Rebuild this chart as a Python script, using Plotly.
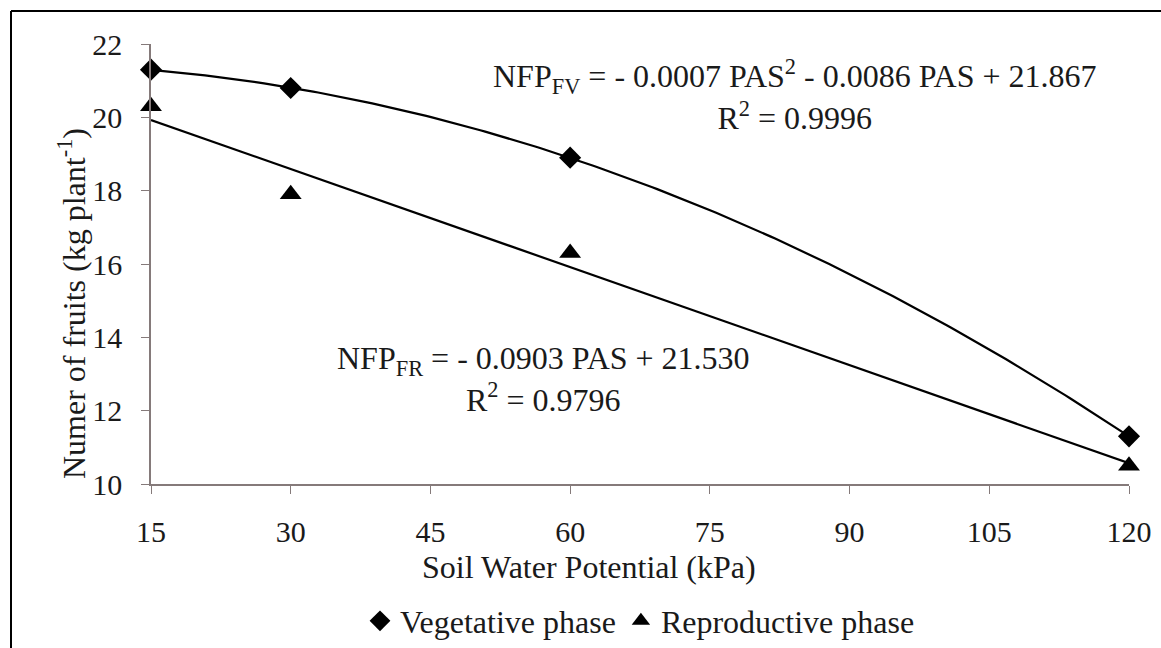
import numpy as np
import plotly.graph_objects as go

# Data
pas = [15, 30, 60, 120]
vegetative = [21.3, 20.8, 18.9, 11.3]
reproductive = [20.3, 17.9, 16.3, 10.5]
x_ticks = [15, 30, 45, 60, 75, 90, 105, 120]
y_ticks = [10, 12, 14, 16, 18, 20, 22]

eq_fv = "NFP<sub>FV</sub> = - 0.0007 PAS<sup>2</sup> - 0.0086 PAS + 21.867<br>R<sup>2</sup> = 0.9996"
eq_fr = "NFP<sub>FR</sub> = - 0.0903 PAS + 21.530<br>R<sup>2</sup> = 0.9796"
x_title = "Soil Water Potential (kPa)"
y_title = "Numer of fruits (kg plant<sup>-1</sup>)"

# Trend lines fitted to the data (as the spreadsheet trendlines)
xf = np.linspace(min(pas), max(pas), 200)
fit_v = np.polyval(np.polyfit(pas, vegetative, 2), xf)
fit_r = np.polyval(np.polyfit(pas, reproductive, 1), xf)

FONT = "Liberation Serif, Times New Roman, serif"
TXT = "#1a1a1a"
AX = "#857a7a"

W, H = 1161, 648
ml, mr, mt, mb = 151, 32, 44, 164
pw, ph = W - ml - mr, H - mt - mb


def px2paper_x(p):
    return (p - ml) / pw


def px2paper_y(p):
    return 1 - (p - mt) / ph


fig = go.Figure()
fig.add_trace(go.Scatter(x=xf, y=fit_v, mode="lines", line=dict(color="black", width=2.2),
                         showlegend=False, hoverinfo="skip", cliponaxis=False))
fig.add_trace(go.Scatter(x=xf, y=fit_r, mode="lines", line=dict(color="black", width=2.2),
                         showlegend=False, hoverinfo="skip", cliponaxis=False))
fig.add_trace(go.Scatter(x=pas, y=vegetative, mode="markers", name="Vegetative phase",
                         marker=dict(symbol="diamond", size=17, color="black"), cliponaxis=False))
fig.add_trace(go.Scatter(x=pas, y=reproductive, mode="markers", name="Reproductive phase",
                         marker=dict(symbol="triangle-up", size=19, color="black"), cliponaxis=False))

for txt, xp, yp in [(eq_fv, 794, 95), (eq_fr, 543, 379)]:
    fig.add_annotation(x=px2paper_x(xp), y=px2paper_y(yp), xref="paper", yref="paper",
                       text=txt, showarrow=False, xanchor="center", yanchor="middle",
                       align="center", font=dict(family=FONT, size=32, color=TXT))

# Axis titles
fig.add_annotation(x=px2paper_x(72), y=px2paper_y(304), xref="paper", yref="paper",
                   text=y_title, textangle=-90, showarrow=False,
                   xanchor="center", yanchor="middle", font=dict(family=FONT, size=32, color=TXT))
fig.add_annotation(x=px2paper_x(589), y=px2paper_y(567), xref="paper", yref="paper",
                   text=x_title, showarrow=False,
                   xanchor="center", yanchor="middle", font=dict(family=FONT, size=32, color=TXT))

# Figure border (top and left visible)
fig.add_shape(type="line", xref="paper", yref="paper",
              x0=px2paper_x(11), x1=px2paper_x(W + 5), y0=px2paper_y(11), y1=px2paper_y(11),
              line=dict(color="black", width=2))
fig.add_shape(type="line", xref="paper", yref="paper",
              x0=px2paper_x(11), x1=px2paper_x(11), y0=px2paper_y(11), y1=px2paper_y(H + 5),
              line=dict(color="black", width=2))

fig.update_layout(
    width=W, height=H,
    margin=dict(l=ml, r=mr, t=mt, b=mb, autoexpand=False),
    paper_bgcolor="white", plot_bgcolor="white",
    font=dict(family=FONT, size=30, color=TXT),
    legend=dict(orientation="h", x=0.5, xanchor="center", y=px2paper_y(621), yanchor="middle",
                font=dict(family=FONT, size=32, color=TXT), itemwidth=30,
                bgcolor="rgba(0,0,0,0)"),
    xaxis=dict(range=[15, 120], tickvals=x_ticks, ticks="outside", ticklen=8, tickcolor=AX,
               showline=True, linecolor=AX, linewidth=1.5, showgrid=False, zeroline=False,
               automargin=False, ticklabelstandoff=12,
               tickfont=dict(family=FONT, size=30, color=TXT)),
    yaxis=dict(range=[10, 22], tickvals=y_ticks, ticks="outside", ticklen=8, tickcolor=AX,
               showline=True, linecolor=AX, linewidth=1.5, showgrid=False, zeroline=False,
               automargin=False, ticklabelstandoff=13,
               tickfont=dict(family=FONT, size=30, color=TXT)),
)

fig.write_html("out.html", config={"displayModeBar": False},
               post_script="document.body.style.margin='0';")
